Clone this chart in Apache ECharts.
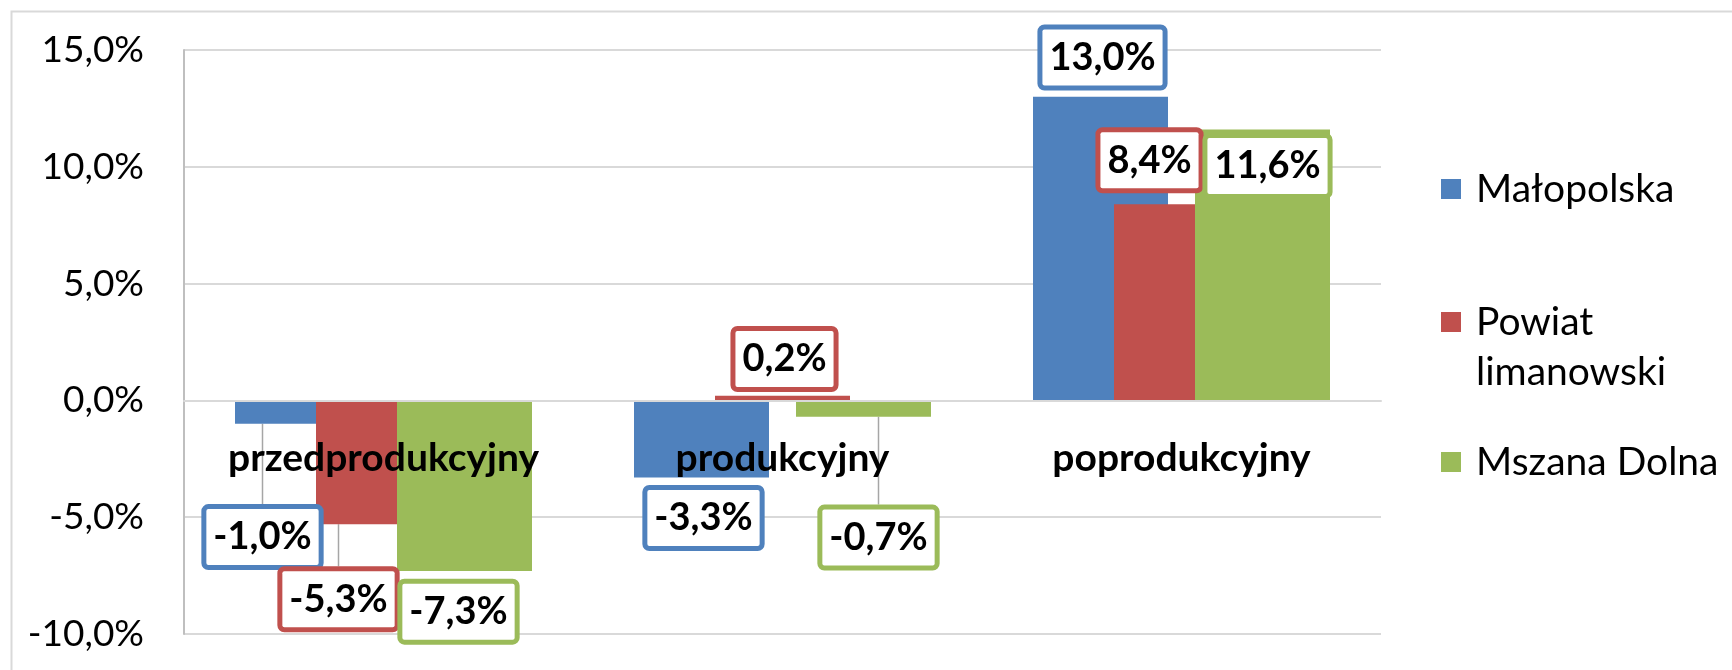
<!DOCTYPE html>
<html>
<head>
<meta charset="utf-8">
<script src="https://cdn.jsdelivr.net/npm/echarts@6/dist/echarts.min.js"></script>
<style>
  html, body { margin: 0; padding: 0; background: #fff; }
  #main { width: 1732px; height: 670px; }
</style>
</head>
<body>
<div id="main"></div>
<script>
// dane
let categories = ["przedprodukcyjny", "produkcyjny", "poprodukcyjny"];
let seriesNames = ["Małopolska", "Powiat limanowski", "Mszana Dolna"];
let malopolska = [-1.0, -3.3, 13.0];
let powiat = [-5.3, 0.2, 8.4];
let mszana = [-7.3, -0.7, 11.6];
let yTicks = [-10, -5, 0, 5, 10, 15];

// wyglad
let colors = ["#4F81BD", "#C0504D", "#9BBB59"];
let font = "Lato";
// przesuniecie etykiet [dx, dy] wzgledem srodka slupka
let labelShift = [
  [[-40, 125], [2, 79], [2, -191]],
  [[-45, 137], [2, -39], [-32, -142]],
  [[-6, 126], [15, 129], [5, -99]]
];
// ktore etykiety maja linie odniesienia
let leaderLines = [
  [true, false, false],
  [true, false, true],
  [false, true, false]
];

function fmt(v) {
  return v.toFixed(1).replace(".", ",") + "%";
}

let myChart = echarts.init(document.getElementById("main"));
let values = [malopolska, powiat, mszana];

let series = values.map((arr, s) => {
  return {
    name: seriesNames[s],
    type: "bar",
    barWidth: 135,
    barGap: "-40%",
    itemStyle: { color: colors[s] },
    data: arr.map((v, i) => ({
      value: v,
      labelLine: { show: leaderLines[s][i] }
    })),
    label: {
      show: true,
      position: "inside",
      formatter: p => fmt(p.value),
      fontFamily: font,
      fontSize: 38,
      fontWeight: "bold",
      color: "#000",
      lineHeight: 44,
      backgroundColor: "#fff",
      borderColor: colors[s],
      borderWidth: 5,
      borderRadius: 2,
      padding: [6, 7]
    },
    labelLine: {
      lineStyle: { color: "#A6A6A6", width: 1.5 }
    },
    labelLayout: p => {
      let d = labelShift[p.seriesIndex][p.dataIndex];
      return { dx: d[0], dy: d[1] };
    }
  };
});

let legendTops = [167, 247, 440];
let legends = seriesNames.map((name, s) => {
  let two = s === 1;
  return {
    data: [name],
    orient: "vertical",
    left: 1441,
    top: legendTops[s],
    padding: 0,
    itemWidth: 20,
    itemHeight: 20,
    icon: "rect",
    selectedMode: false,
    formatter: n => (two ? "{g| }\n{t|Powiat}\n{t|limanowski}" : n),
    textStyle: {
      fontFamily: font,
      fontSize: 39,
      color: "#000",
      lineHeight: 44,
      padding: [0, 0, 0, 10],
      rich: {
        g: { fontFamily: font, fontSize: 39, lineHeight: 50, height: 50 },
        t: { fontFamily: font, fontSize: 39, color: "#000", lineHeight: 50, height: 50 }
      }
    }
  };
});

let option = {
  animation: false,
  backgroundColor: "#fff",
  graphic: [
    {
      type: "rect",
      left: 9,
      top: 9,
      shape: { width: 1800, height: 700 },
      style: { fill: "none", stroke: "#D9D9D9", lineWidth: 2 },
      silent: true
    }
  ],
  grid: { left: 184, right: 351, top: 50, bottom: 36, outerBoundsMode: "none", containLabel: false },
  legend: legends,
  xAxis: {
    type: "category",
    data: categories,
    z: 10,
    position: "bottom",
    // os kategorii na wysokosci 0%
    offset: -584 * 10 / 25,
    axisLine: { onZero: false, lineStyle: { color: "#D9D9D9", width: 2 } },
    axisTick: { show: false },
    axisLabel: {
      interval: 0,
      hideOverlap: false,
      margin: 36,
      fontFamily: font,
      fontSize: 39,
      fontWeight: "bold",
      color: "#000",
      lineHeight: 44
    }
  },
  yAxis: {
    type: "value",
    min: yTicks[0],
    max: yTicks[yTicks.length - 1],
    interval: 5,
    axisLine: { show: true, lineStyle: { color: "#BFBFBF", width: 2 } },
    axisTick: { show: false },
    splitLine: { lineStyle: { color: "#D9D9D9", width: 2 } },
    axisLabel: {
      margin: 40,
      fontFamily: font,
      fontSize: 37,
      color: "#000",
      formatter: v => fmt(v)
    }
  },
  series: series
};

myChart.setOption(option);
</script>
</body>
</html>
